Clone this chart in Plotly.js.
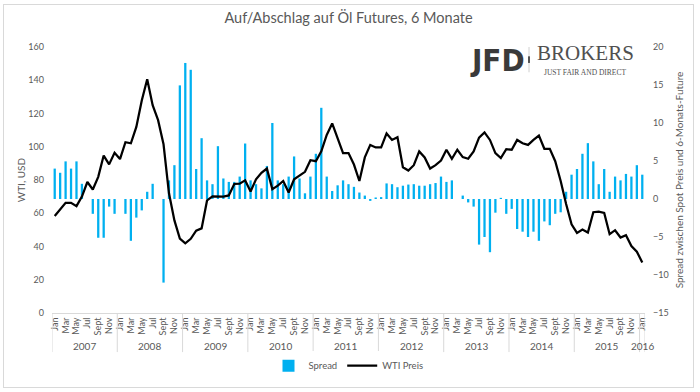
<!DOCTYPE html>
<html>
<head>
<meta charset="utf-8">
<script src="https://cdn.plot.ly/plotly-3.0.1.min.js"></script>
<style>
  html, body { margin: 0; padding: 0; background: #fff; }
  #wrap { position: relative; width: 700px; height: 392px; }
  #chart { width: 700px; height: 392px; }
  #frame { position: absolute; left: 3px; top: 4px; width: 689px; height: 382px;
           border: 1px solid #D9D9D9; pointer-events: none; }
</style>
</head>
<body>
<div id="wrap"><div id="chart"></div><div id="frame"></div></div>
<script>
// ---- Data ----
const monthNames = ['Jan','Feb','Mar','Apr','May','Jun','Jul','Aug','Sept','Oct','Nov','Dec'];
const years = [2007, 2008, 2009, 2010, 2011, 2012, 2013, 2014, 2015, 2016];
const monthsInLastYear = 1; // the series ends in Jan 2016

// Spread between spot price and 6-month future (right axis)
const spread = [
  4.0, 3.45, 4.95, 4.0, 4.95, 2.0, 0, -1.95, -5.1, -5.1, -1.0, -1.95,
  0, -1.95, -5.5, -2.45, -1.5, 0.95, 2.0, 0, -11.0, 2.45, 4.45, 14.95,
  17.9, 17.0, 3.95, 8.0, 2.45, 1.95, 6.95, 2.7, 2.25, 2.25, 2.95, 7.3,
  2.45, 1.95, 1.4, 4.35, 10.0, 2.45, 1.95, 2.95, 5.6, 2.7, 0.75, 2.95,
  5.95, 12.0, 2.95, 1.05, 1.8, 2.45, 1.95, 1.6, 0.85, 0.45, -0.25, 0.2,
  0.25, 2.05, 1.95, 1.55, 1.75, 1.9, 1.95, 1.75, 1.75, 1.95, 2.1, 2.95,
  2.25, 2.45, 0, 0.45, -0.45, -1.0, -6.0, -5.0, -7.0, -1.8, 0.15, -1.95,
  -1.3, -3.95, -4.3, -5.0, -4.3, -5.5, -2.95, -3.45, -1.95, -1.75, 0.95, 3.2,
  3.95, 5.95, 7.35, 4.95, 1.95, 3.95, 0.95, 2.95, 2.45, 3.3, 2.95, 4.45,
  3.2
];

// WTI price in USD (left axis)
const wti = [
  58.3, 62.4, 66.3, 66.3, 64.3, 70.0, 78.8, 74.3, 81.9, 94.7, 89.4, 96.4,
  92.6, 102.7, 102.1, 111.9, 127.8, 140.6, 125.0, 116.0, 101.5, 72.0, 55.7, 44.8,
  41.9, 44.6, 49.5, 50.9, 67.7, 70.1, 69.9, 70.0, 70.7, 77.6, 77.8, 79.8,
  73.1, 80.4, 84.3, 86.9, 74.5, 76.6, 79.4, 72.5, 80.4, 82.4, 84.9, 91.9,
  91.3, 97.2, 107.1, 114.0, 105.1, 96.2, 96.2, 89.3, 79.4, 93.6, 101.1, 99.6,
  99.6, 108.0, 104.1, 105.7, 87.7, 85.7, 88.9, 97.2, 93.6, 86.9, 88.9, 91.7,
  98.2, 92.8, 98.2, 93.8, 92.8, 97.2, 105.5, 108.6, 104.1, 96.2, 93.2, 98.6,
  98.2, 104.1, 102.1, 101.1, 104.1, 106.7, 98.8, 98.8, 91.3, 79.4, 65.6, 53.3,
  48.2, 50.2, 48.4, 60.6, 61.0, 60.2, 47.4, 49.8, 45.4, 46.8, 40.3, 36.9,
  30.4
];

const tickMonths = ['Jan','Mar','May','Jul','Sept','Nov'];

// ---- Build category labels ----
const cats = [], catMonth = [], yearStart = [];
years.forEach((y, yi) => {
  const n = (yi === years.length - 1) ? monthsInLastYear : 12;
  yearStart.push(cats.length);
  for (let m = 0; m < n; m++) { cats.push(monthNames[m] + ' ' + y); catMonth.push(monthNames[m]); }
});
const nCat = cats.length;

const tickvals = [], ticktext = [];
cats.forEach((c, i) => { if (tickMonths.includes(catMonth[i])) { tickvals.push(c); ticktext.push(catMonth[i]); } });

const txt = '#595959';
const fam = 'Lato, "Open Sans", "Liberation Sans", sans-serif';

// year labels + dividers
const annotations = [], shapes = [];
const divBottom = -0.147;
years.forEach((y, yi) => {
  const s = yearStart[yi];
  const e = (yi + 1 < years.length) ? yearStart[yi + 1] : nCat;
  annotations.push({ xref: 'x', yref: 'paper', x: (s + e - 1) / 2, y: -0.125, text: String(y),
    showarrow: false, font: { size: 10, color: txt, family: fam }, xanchor: 'center', yanchor: 'middle' });
  shapes.push({ type: 'line', xref: 'x', yref: 'paper', x0: s - 0.5, x1: s - 0.5, y0: 0, y1: divBottom,
    line: { color: '#D9D9D9', width: 1 } });
});
shapes.push({ type: 'line', xref: 'x', yref: 'paper', x0: nCat - 0.5, x1: nCat - 0.5, y0: 0, y1: divBottom,
  line: { color: '#D9D9D9', width: 1 } });

// Logo (JFD | BROKERS)
annotations.push({ xref: 'paper', yref: 'paper', x: 0.751, y: 0.953, text: '<b>JFD</b>', showarrow: false,
  font: { size: 31, color: '#3a3a3a', family: '"Liberation Sans Narrow", "DejaVu Sans Condensed", "Liberation Sans", sans-serif' },
  xanchor: 'center', yanchor: 'middle' });
annotations.push({ xref: 'paper', yref: 'paper', x: 0.899, y: 0.929, text: 'BROKERS', showarrow: false,
  font: { size: 21, color: '#505050', family: '"Liberation Serif", "DejaVu Serif", serif' },
  xanchor: 'center', yanchor: 'bottom', borderpad: 0 });
annotations.push({ xref: 'paper', yref: 'paper', x: 0.899, y: 0.926, text: 'JUST FAIR AND DIRECT', showarrow: false,
  font: { size: 7.5, color: '#505050', family: '"Liberation Serif", "DejaVu Serif", serif' },
  xanchor: 'center', yanchor: 'top', borderpad: 0 });
shapes.push({ type: 'line', xref: 'paper', yref: 'paper', x0: 0.8044, x1: 0.8044, y0: 0.905, y1: 1.0,
  line: { color: '#D0D0D0', width: 1 } });
shapes.push({ type: 'line', xref: 'paper', yref: 'paper', x0: 0.8044, x1: 0.8044, y0: 0.94, y1: 0.965,
  line: { color: '#555', width: 2 } });

const traces = [
  { type: 'bar', name: 'Spread', x: cats, y: spread, yaxis: 'y',
    marker: { color: '#00B0F0' }, width: 0.42, hoverinfo: 'x+y' },
  { type: 'scatter', mode: 'lines', name: 'WTI Preis', x: cats, y: wti, yaxis: 'y2',
    line: { color: '#000000', width: 2.25 } }
];

const layout = {
  width: 700, height: 392,
  margin: { l: 52, r: 55, t: 47, b: 75, pad: 0 },
  paper_bgcolor: '#ffffff', plot_bgcolor: '#ffffff',
  font: { family: fam, color: txt, size: 9 },
  title: { text: 'Auf/Abschlag auf Öl Futures, 6 Monate', x: 0.5, xanchor: 'center', xref: 'paper',
    y: 0.955, yref: 'container', yanchor: 'middle', font: { size: 14.5, color: txt, family: fam } },
  showlegend: true,
  legend: { orientation: 'h', x: 0.5, xanchor: 'center', y: -0.198, yanchor: 'middle',
    font: { size: 9.5, color: txt, family: fam }, itemwidth: 30, traceorder: 'normal' },
  xaxis: { type: 'category', range: [-0.5, nCat - 0.5], tickmode: 'array', tickvals: tickvals, ticktext: ticktext,
    tickangle: -90, tickfont: { size: 9, color: txt }, showgrid: false, zeroline: false,
    showline: true, linecolor: '#D9D9D9', linewidth: 1, ticks: '', fixedrange: true },
  yaxis: { side: 'right', range: [-15, 20], dtick: 5, tick0: 0, showgrid: false, zeroline: false,
    showline: false, ticks: '', ticklabelstandoff: 7, tickfont: { size: 9, color: txt },
    title: { text: 'Spread zwischen Spot Preis und 6-Monats-Future', standoff: 8, font: { size: 10, color: txt } } },
  yaxis2: { overlaying: 'y', side: 'left', range: [0, 160], dtick: 20, showgrid: false, zeroline: false,
    showline: false, ticks: '', ticklabelstandoff: 7, tickfont: { size: 9, color: txt },
    title: { text: 'WTI, USD', standoff: 0, font: { size: 10, color: txt } } },
  bargap: 0.5,
  annotations: annotations,
  shapes: shapes
};

Plotly.newPlot('chart', traces, layout, { displayModeBar: false, staticPlot: true });
</script>
</body>
</html>
